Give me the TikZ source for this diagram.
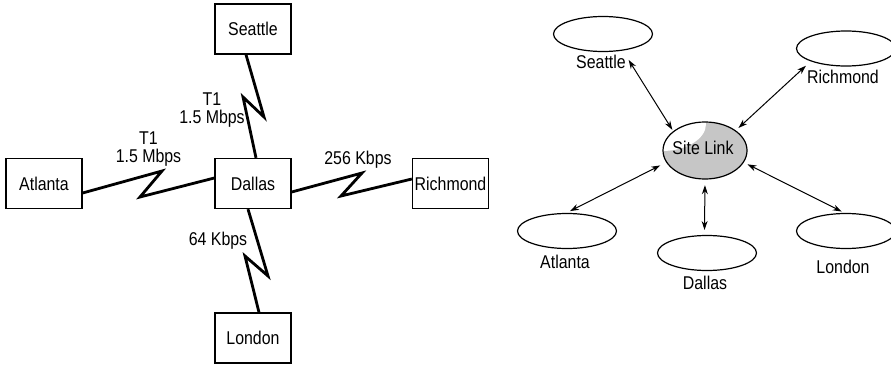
\documentclass[tikz,border=0pt]{standalone}
\usepackage{fontspec}
\setmainfont[FakeStretch=0.86]{Liberation Sans}
\usetikzlibrary{calc,arrows.meta,shapes.geometric}
\tikzset{
  site/.style={draw, line width=1.3pt, minimum width=76pt, minimum height=50pt, inner sep=0pt},
  bolt/.style={line width=2.8pt, line join=miter, miter limit=12},
  lbl/.style={inner sep=0pt, align=center},
  oval/.style={ellipse, draw, line width=1.2pt, minimum width=99pt, minimum height=35pt, inner sep=0pt},
  arr/.style={line width=1pt, {Stealth[length=9pt,width=6pt]}-{Stealth[length=9pt,width=6pt]}},
}
\begin{document}
\begin{tikzpicture}[x=1pt, y=-1pt, font=\fontsize{18.5}{18.5}\selectfont]
\useasboundingbox (0,0) rectangle (891,364);
\clip (0,0) rectangle (891,364);
% ---------- left: WAN links ----------
\node[site] (sea) at (253,29) {Seattle};
\node[site] (atl) at (44,183.5) {Atlanta};
\node[site] (dal) at (253,183.5) {Dallas};
\node[site] (ric) at (450.5,183.5) {Richmond};
\node[site] (lon) at (253,338) {London};

\draw[bolt] ($(sea.south)+(-7,0)$) -- (264,117) -- (243,97) -- ($(dal.north)+(3,0)$);
\draw[bolt] ($(atl.east)+(0,9.5)$) -- (162,171) -- (140,197) -- ($(dal.west)+(0,-5.5)$);
\draw[bolt] ($(dal.east)+(0,8.5)$) -- (362,173) -- (341,196) -- ($(ric.west)+(0,-4.5)$);
\draw[bolt] ($(dal.south)+(-5,0)$) -- (268,276) -- (245,256) -- ($(lon.north)+(6,0)$);

\node[lbl] (l1) at (212,110) {T1\\1.5 Mbps};
\node[lbl] (l2) at (148.5,149) {T1\\1.5 Mbps};
\node[lbl] (l3) at (358,160) {256 Kbps};
\node[lbl] (l4) at (218,241) {64 Kbps};

% ---------- right: site link ----------
\node[ellipse, minimum width=84pt, minimum height=57pt, inner sep=0pt] (sl) at (705,150.5) {};
\fill[gray!45] (sl.center) ellipse [x radius=42, y radius=28.5];
\begin{scope}
  \clip (sl.center) ellipse [x radius=42, y radius=28.5];
  \fill[white] (662,124) ellipse [x radius=44, y radius=27];
\end{scope}
\draw[line width=1.2pt] (sl.center) ellipse [x radius=42, y radius=28.5];
\node[lbl] (slt) at (703,148) {Site Link};

\node[oval] (eSea) at (603,34) {};
\node[oval] (eRic) at (846,48.5) {};
\node[oval] (eAtl) at (567,231) {};
\node[oval] (eDal) at (707,253) {};
\node[oval] (eLon) at (846,231) {};

\node[lbl] (tSea) at (601,62) {Seattle};
\node[lbl] (tRic) at (843,77) {Richmond};
\node[lbl] (tAtl) at (565,262) {Atlanta};
\node[lbl] (tDal) at (705,283) {Dallas};
\node[lbl] (tLon) at (843,267) {London};

\draw[arr, shorten <=2pt, shorten >=11pt] (sl.149) -- (eSea.-40);
\draw[arr, shorten <=4pt, shorten >=6.5pt] (sl.33) -- (eRic.200);
\draw[arr, shorten <=7pt, shorten >=4pt] (sl.197) -- (eAtl.92);
\draw[arr, shorten <=6pt, shorten >=5pt] (sl.270) -- (eDal.98);
\draw[arr, shorten <=4.5pt, shorten >=3pt] (sl.-17) -- (eLon.95);
\end{tikzpicture}
\end{document}
